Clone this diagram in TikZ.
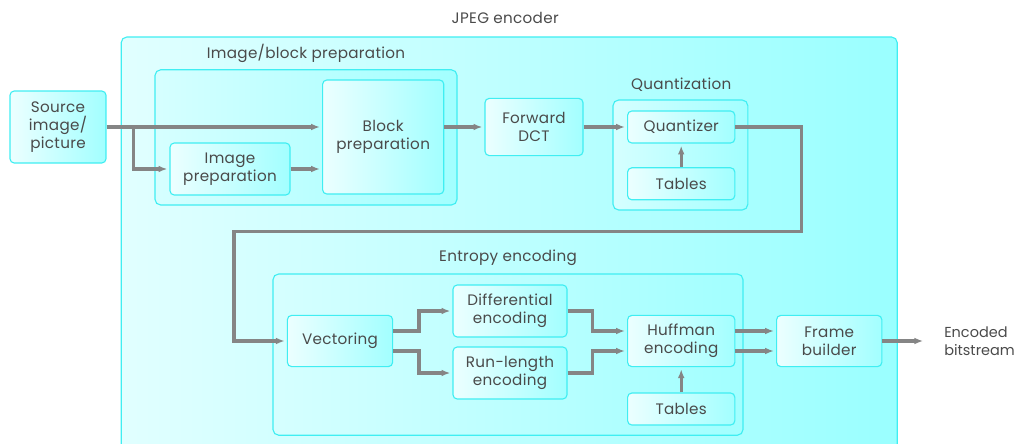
\documentclass[tikz,border=0pt]{standalone}
\usepackage{fontspec}
\setmainfont[LetterSpace=2]{Poppins}
\usetikzlibrary{arrows.meta}

\definecolor{boxedge}{HTML}{40EEF2}
\definecolor{boxlight}{HTML}{ECFFFF}
\definecolor{boxdark}{HTML}{A2FFFF}
\definecolor{linegray}{HTML}{858585}
\definecolor{textgray}{HTML}{4A4A4A}

\begin{document}
\begin{tikzpicture}[x=1cm,y=1cm]
\tikzset{
  blockbox/.style={draw=boxedge,line width=0.8pt,rounded corners=3pt,shading=axis,
    left color=boxlight,right color=boxdark,align=center,text=textgray,
    font=\fontsize{10.8}{13}\selectfont,inner sep=1pt},
  groupbox/.style={draw=boxedge,line width=0.8pt,rounded corners=4pt,shading=axis,
    left color=boxlight!70!boxdark,right color=boxdark},
  grouplabel/.style={text=textgray,font=\fontsize{10.8}{13}\selectfont,inner sep=0pt},
  flow/.style={draw=linegray,line width=2.4pt,-{Latex[length=2.2mm,width=1.7mm]},shorten >=1.5pt}
}
\useasboundingbox (0,0) rectangle (25.50,11.075);
\clip (0,0) rectangle (25.50,11.075);
% encoder frame
\path[draw=boxedge,line width=0.8pt,rounded corners=4pt,shading=axis,
  left color=boxlight!85!boxdark,right color=boxdark!95!cyan] (3.03,-0.30) rectangle (22.43,10.15);
\node[grouplabel] (l_jpeg) at (12.63,10.63) {JPEG encoder};
% groups
\node[groupbox,minimum width=7.55cm,minimum height=3.38cm] (g_prep) at (7.65,7.64) {};
\node[grouplabel] (l_prep) at (7.65,9.73) {Image/block preparation};
\node[groupbox,minimum width=3.37cm,minimum height=2.75cm] (g_quant) at (17.01,7.20) {};
\node[grouplabel] (l_quant) at (17.03,8.95) {Quantization};
\node[groupbox,minimum width=11.75cm,minimum height=4.03cm] (g_entropy) at (12.70,2.21) {};
\node[grouplabel] (l_entropy) at (12.70,4.63) {Entropy encoding};
% blocks
\node[blockbox,minimum width=2.40cm,minimum height=1.80cm] (n_source) at (1.45,7.90) {Source\\image/\\picture};
\node[blockbox,minimum width=3.00cm,minimum height=1.30cm] (n_imgprep) at (5.75,6.85) {Image\\preparation};
\node[blockbox,minimum width=3.03cm,minimum height=2.85cm] (n_blockprep) at (9.58,7.65) {Block\\preparation};
\node[blockbox,minimum width=2.45cm,minimum height=1.43cm] (n_dct) at (13.35,7.90) {Forward\\DCT};
\node[blockbox,minimum width=2.68cm,minimum height=0.80cm] (n_quant) at (17.03,7.90) {Quantizer};
\node[blockbox,minimum width=2.68cm,minimum height=0.80cm] (n_qtables) at (17.03,6.48) {Tables};
\node[blockbox,minimum width=2.63cm,minimum height=1.28cm] (n_vect) at (8.50,2.55) {Vectoring};
\node[blockbox,minimum width=2.85cm,minimum height=1.30cm] (n_diff) at (12.75,3.30) {Differential\\encoding};
\node[blockbox,minimum width=2.85cm,minimum height=1.30cm] (n_runlen) at (12.75,1.75) {Run-length\\encoding};
\node[blockbox,minimum width=2.68cm,minimum height=1.28cm] (n_huff) at (17.03,2.55) {Huffman\\encoding};
\node[blockbox,minimum width=2.68cm,minimum height=0.80cm] (n_etables) at (17.03,0.85) {Tables};
\node[blockbox,minimum width=2.63cm,minimum height=1.28cm] (n_frame) at (20.73,2.55) {Frame\\builder};
\node[grouplabel,anchor=west,align=left,font=\fontsize{10.3}{13}\selectfont\addfontfeatures{LetterSpace=0}] (n_out) at (23.60,2.55) {Encoded\\bitstream};
% turning points
\coordinate (c_split) at (3.33,7.90);
\coordinate (c_qa) at (20.03,5.28);
\coordinate (c_qb) at (5.85,5.28);
% connectors
\draw[flow] (n_source.east) -- (n_source.east -| n_blockprep.west);
\draw[flow] (c_split) |- (n_imgprep.west);
\draw[flow] (n_imgprep.east) -- (n_imgprep.east -| n_blockprep.west);
\draw[flow] (n_blockprep.east |- n_dct.west) -- (n_dct.west);
\draw[flow] (n_dct.east) -- (n_quant.west);
\draw[flow] (n_qtables.north) -- (n_quant.south);
\draw[flow] (n_quant.east) -| (c_qa) -- (c_qb) |- (n_vect.west);
\draw[flow] ([yshift=0.25cm]n_vect.east) -- ++(0.65,0) |- (n_diff.west);
\draw[flow] ([yshift=-0.25cm]n_vect.east) -- ++(0.65,0) |- (n_runlen.west);
\draw[flow] (n_diff.east) -- ++(0.62,0) |- ([yshift=0.25cm]n_huff.west);
\draw[flow] (n_runlen.east) -- ++(0.62,0) |- ([yshift=-0.25cm]n_huff.west);
\draw[flow] ([yshift=0.25cm]n_huff.east) -- ([yshift=0.25cm]n_frame.west);
\draw[flow] ([yshift=-0.25cm]n_huff.east) -- ([yshift=-0.25cm]n_frame.west);
\draw[flow] (n_etables.north) -- (n_huff.south);
\draw[flow,shorten >=0.52cm] (n_frame.east) -- (n_out.west);
\end{tikzpicture}
\end{document}
